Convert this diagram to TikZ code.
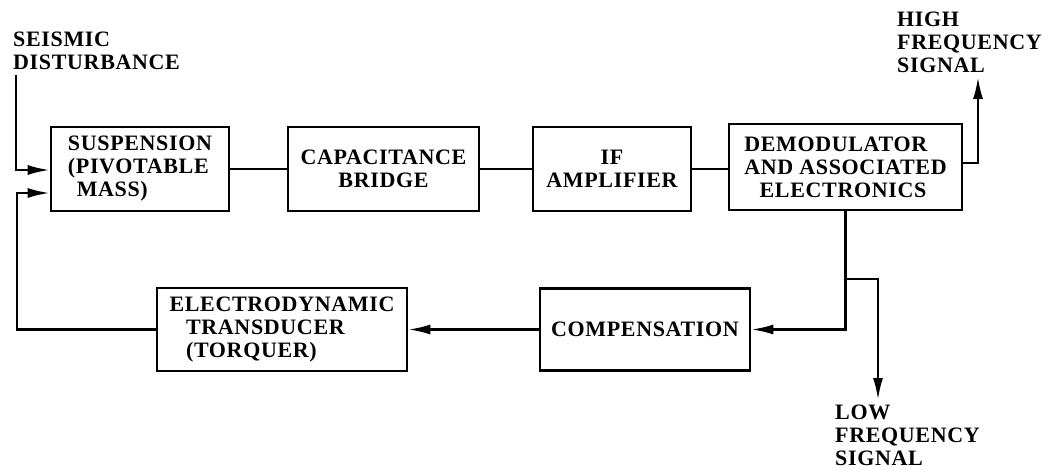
\documentclass[tikz,border=0pt]{standalone}
\usepackage{fontspec}
\setmainfont{Liberation Serif}[LetterSpace=3]
\usepackage{tikz}
\usetikzlibrary{arrows.meta}
\tikzset{x=1pt, y=-1pt,
  block/.style={draw, line width=2.6pt, inner sep=0pt},
  sig/.style={line width=2.4pt, -{Latex[length=22pt,width=10pt]}},
  wire/.style={line width=2.4pt},
  lbl/.style={inner sep=0pt, align=left, anchor=north west}}

\begin{document}
\begin{tikzpicture}[font=\fontsize{22}{23}\selectfont\bfseries]
\useasboundingbox (0,0) rectangle (1055,470);
\node[block, minimum width=178pt, minimum height=84pt, align=left] (susp) at (140,169)
  {SUSPENSION\\(PIVOTABLE\\\hspace*{0.4em}MASS)};
\node[block, minimum width=191pt, minimum height=84pt, align=center] (cap) at (383.5,169)
  {CAPACITANCE\\BRIDGE};
\node[block, minimum width=158pt, minimum height=84pt, align=center] (ifamp) at (612,169)
  {IF\\AMPLIFIER};
\node[block, minimum width=233pt, minimum height=86pt, align=left] (demod) at (845.5,167)
  {DEMODULATOR\\AND ASSOCIATED\\\hspace*{0.7em}ELECTRONICS};
\node[block, minimum width=250pt, minimum height=83pt, align=left] (elec) at (282,329.5)
  {ELECTRODYNAMIC\\\hspace*{0.75em}TRANSDUCER\\\hspace*{0.75em}(TORQUER)};
\node[block, minimum width=210pt, minimum height=82pt] (comp) at (645,329.5)
  {COMPENSATION};

\node[lbl] (seislbl) at (13,32) {SEISMIC\\DISTURBANCE};
\node[lbl] (hflbl) at (897,12) {HIGH\\FREQUENCY\\SIGNAL};
\node[lbl] (lflbl) at (835,405) {LOW\\FREQUENCY\\SIGNAL};

\coordinate (seis) at (16,75);
\coordinate (fbturn) at (17,193);
\coordinate (hftip) at (978,77);
\coordinate (lfsplit) at (845.5,279);
\coordinate (lftip) at (878,400);

\draw[wire] (susp.east) -- (cap.west);
\draw[wire] (cap.east) -- (ifamp.west);
\draw[wire] (ifamp.east) -- (ifamp.east -| demod.west);
\draw[sig] (seis) |- ([yshift=-1pt]susp.west);
\draw[sig] (elec.west) -| (fbturn) -- (fbturn -| susp.west);
\draw[sig] ([yshift=4pt]demod.east) -| (hftip);
\draw[sig] (demod.south) |- (comp.east);
\draw[sig] (lfsplit) -| (lftip);
\draw[sig] (comp.west) -- (elec.east);
\end{tikzpicture}
\end{document}
